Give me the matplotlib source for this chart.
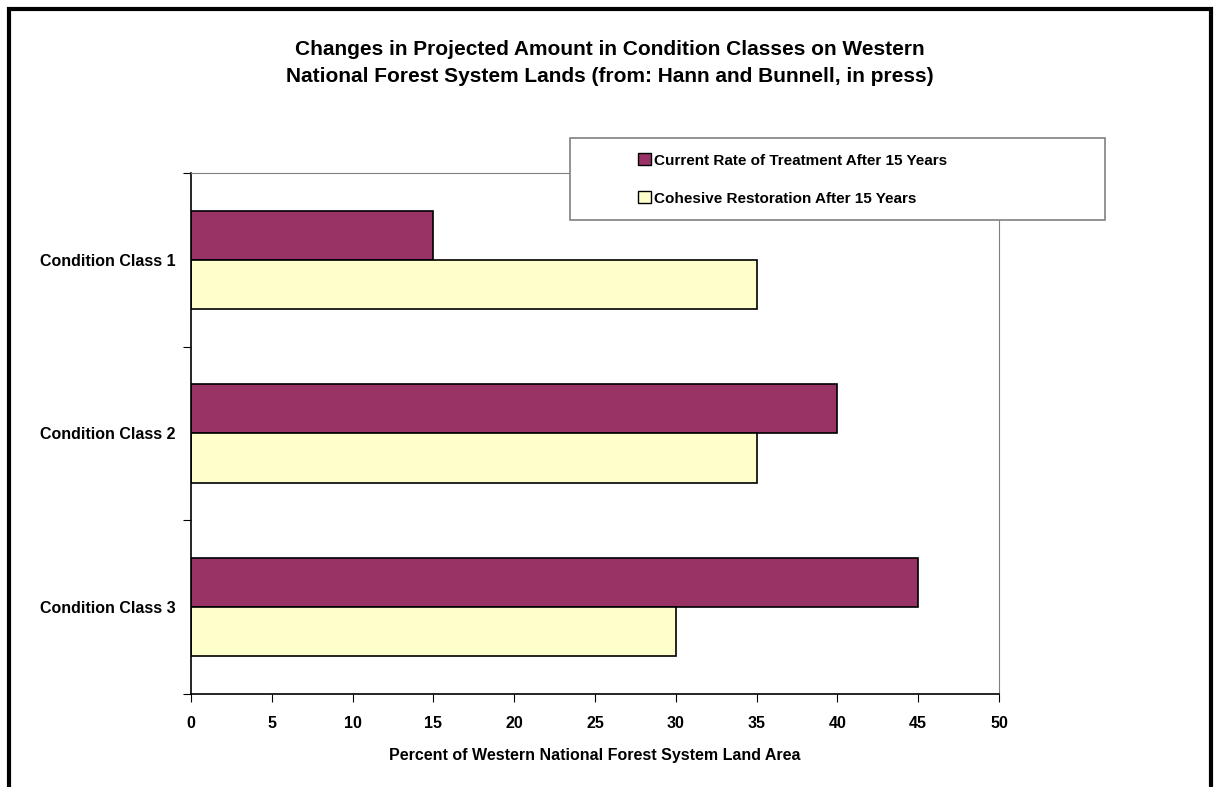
import matplotlib.pyplot as plt
from matplotlib.patches import Rectangle, Patch

categories = ['Condition Class 1', 'Condition Class 2', 'Condition Class 3']
currentRate = [15, 40, 45]
cohesive = [35, 35, 30]
seriesNames = ['Current Rate of Treatment After 15 Years', 'Cohesive Restoration After 15 Years']
xTicks = [0, 5, 10, 15, 20, 25, 30, 35, 40, 45, 50]

purple = '#993366'
yellow = '#FFFFCC'

plt.rcParams['font.family'] = ['Liberation Sans', 'DejaVu Sans']
plt.rcParams['font.weight'] = 'bold'

fig = plt.figure(figsize=(12.15, 7.87), dpi=100)
ax = fig.add_axes([191/1215, 1 - 694/787, (999-191)/1215, (694-173)/787])

barH = 0.283
pos = list(range(len(categories)))
ax.barh([p - barH/2 for p in pos], currentRate, height=barH, color=purple, edgecolor='black', linewidth=1.2)
ax.barh([p + barH/2 for p in pos], cohesive, height=barH, color=yellow, edgecolor='black', linewidth=1.2)

ax.set_ylim(len(categories) - 0.5, -0.5)
ax.set_xlim(0, 50)
ax.set_xticks(xTicks)
ax.set_xticklabels([str(t) for t in xTicks], fontsize=11.5, fontweight='bold')
# ticks on the group boundaries, labels in the middle of each group
ax.set_yticks([p - 0.5 for p in pos] + [len(categories) - 0.5])
ax.set_yticklabels([])
ax.set_yticks(pos, minor=True)
ax.set_yticklabels(categories, minor=True, fontsize=11.5, fontweight='bold')
ax.tick_params(axis='y', which='minor', length=0, pad=11)
ax.tick_params(axis='y', which='major', length=6, direction='out', color='black')
ax.tick_params(axis='x', length=6, direction='out', pad=10)

ax.spines['left'].set_color('black')
ax.spines['bottom'].set_color('black')
ax.spines['left'].set_linewidth(1.2)
ax.spines['bottom'].set_linewidth(1.2)
ax.spines['top'].set_color('#808080')
ax.spines['right'].set_color('#808080')

ax.set_xlabel('Percent of Western National Forest System Land Area', fontsize=11.5, fontweight='bold', labelpad=12)

fig.text(0.502, 1 - 63/787, 'Changes in Projected Amount in Condition Classes on Western\n'
         'National Forest System Lands (from: Hann and Bunnell, in press)',
         ha='center', va='center', fontsize=15, fontweight='bold', linespacing=1.55)

# legend box
fig.patches.append(Rectangle((570/1215, 1 - 220/787), 535/1215, 82/787, transform=fig.transFigure,
                             facecolor='white', edgecolor='#808080', linewidth=1.2, zorder=5))
handles = [Patch(facecolor=purple, edgecolor='black'), Patch(facecolor=yellow, edgecolor='black')]
leg = fig.legend(handles, seriesNames, loc='upper left', bbox_to_anchor=(626/1215, 1 - 141/787),
                 frameon=False, fontsize=11, handlelength=0.85, handleheight=0.85, handletextpad=0.2,
                 labelspacing=1.55, borderpad=0.3)
leg.set_zorder(6)

# outer border
fig.patches.append(Rectangle((9/1215, -0.05), 1202/1215, 1.05 - 9/787, transform=fig.transFigure,
                             facecolor='none', edgecolor='black', linewidth=3, zorder=10))

fig.savefig('out.png', dpi=100)
